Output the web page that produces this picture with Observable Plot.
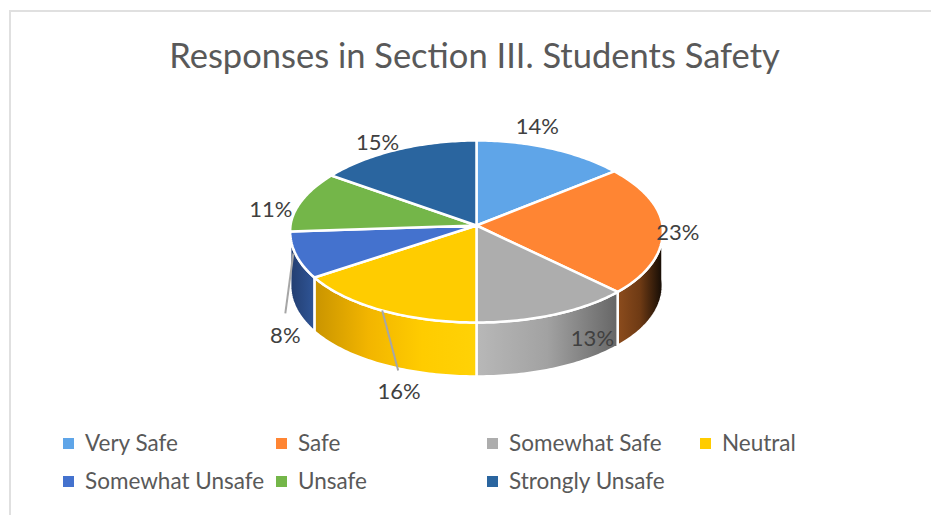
<!DOCTYPE html>
<html>
<head>
<meta charset="utf-8">
<script src="https://cdn.jsdelivr.net/npm/d3@7"></script>
<script src="https://cdn.jsdelivr.net/npm/@observablehq/plot@0.6"></script>
<style>
  html, body { margin: 0; padding: 0; background: #fff; }
  #frame {
    position: absolute; left: 9px; top: 10px; width: 922px; height: 505px;
    border-left: 2px solid #e0e0e0; border-top: 2px solid #e0e0e0;
    box-sizing: border-box; overflow: hidden;
    font-family: Lato, "Open Sans", sans-serif;
  }
  #title {
    position: absolute; left: -2px; width: 931px; top: 23px; text-align: center;
    font-size: 34.5px; line-height: 40px; color: #595959;
  }
  #chart { position: absolute; left: -11px; top: 88px; }
  #legend {
    position: absolute; left: 52px; top: 418px;
    display: grid; grid-template-columns: 213px 211px 213px 160px; row-gap: 12px;
    font-size: 22.5px; line-height: 26px; color: #595959;
  }
  .key { display: flex; align-items: center; white-space: nowrap; }
  .swatch { width: 11px; height: 11px; margin-right: 11px; flex: none; }
</style>
</head>
<body>
<div id="frame">
  <div id="title">Responses in Section III. Students Safety</div>
  <div id="chart"></div>
  <div id="legend"></div>
</div>
<script>
// Survey categories, their shares in percent and their colours
const categories = ["Very Safe", "Safe", "Somewhat Safe", "Neutral", "Somewhat Unsafe", "Unsafe", "Strongly Unsafe"];
const shares = [14, 23, 13, 16, 8, 11, 15];
const colors = ["#5fa5e8", "#ff8533", "#adadad", "#ffcc00", "#4472ce", "#74b649", "#2a659f"];

// Horizontal shading of the visible outer wall of each slice
const wallShades = {
  "Safe": ["#8c4c1d", "#6e3a14", "#120b05"],
  "Somewhat Safe": ["#b8b8b8", "#a2a2a2", "#666666"],
  "Neutral": ["#c99400", "#f2b500", "#ffcc00", "#ffd206"],
  "Somewhat Unsafe": ["#233e70", "#2f5597"]
};

// Data labels sit relative to the rim at each slice's middle angle
const labelOffsets = {
  "Very Safe": [-14, -22], "Safe": [15, 4], "Somewhat Safe": [38, 24], "Neutral": [17, 81],
  "Somewhat Unsafe": [-11, 80], "Unsafe": [-30, 8], "Strongly Unsafe": [-19, -7]
};
// Leader lines for the two labels pulled away from the pie: start and end relative to the rim
const leaderOffsets = {
  "Neutral": [[0, 0], [16, 60]],
  "Somewhat Unsafe": [[-3, -2], [-11, 58]]
};

// Tilted-disc projection: the near half of the disc reads slightly deeper and wider than the far half
const radiusX = 186, radiusBack = 85, radiusFront = 97, depth = 54, perspective = 0.06;
const project = (deg, drop = 0) => {
  const t = deg * Math.PI / 180, c = Math.cos(t);
  return {
    x: radiusX * Math.sin(t) * (1 - perspective * c),
    y: -c * (c > 0 ? radiusBack : radiusFront) + drop
  };
};
const arc = (from, to, drop = 0) => {
  const n = Math.max(1, Math.ceil(Math.abs(to - from)));
  return d3.range(n + 1).map(i => project(from + (to - from) * i / n, drop));
};

let running = 0;
const slices = categories.map((name, i) => {
  const start = running * 3.6;
  running += shares[i];
  return {name, share: shares[i], color: colors[i], start, end: running * 3.6, mid: (start + running * 3.6) / 2};
});

// The wall of a slice is whatever part of it lies on the near half of the disc
const walls = slices.flatMap((s, i) => {
  const a = Math.max(s.start, 90), b = Math.min(s.end, 270);
  if (b - a < 5) return [];
  const top = arc(a, b), bottom = arc(a, b, depth).reverse();
  return [{name: s.name, id: `wall-${i}`, points: [...top, ...bottom, top[0]]}];
});

const topFace = s => [{x: 0, y: 0}, ...arc(s.start, s.end), {x: 0, y: 0}];
const outline = {stroke: "white", strokeWidth: 2.5, x: "x", y: "y"};

// Gradient definitions referenced by the wall fills
const gradients = () => {
  const defs = d3.create("svg:defs");
  for (const w of walls) {
    const shades = wallShades[w.name];
    const g = defs.append("linearGradient").attr("id", w.id);
    shades.forEach((c, k) => g.append("stop").attr("offset", k / (shades.length - 1)).attr("stop-color", c));
  }
  return defs.node();
};

const rim = s => project(s.mid);
const placed = slices.map(s => {
  const r = rim(s), [dx, dy] = labelOffsets[s.name];
  return {...s, rx: r.x, ry: r.y, dx, dy};
});
const leaders = slices.filter(s => leaderOffsets[s.name]).map(s => {
  const r = rim(s), [[ax, ay], [bx, by]] = leaderOffsets[s.name];
  return {x1: r.x + ax, y1: r.y + ay, x2: r.x + bx, y2: r.y + by};
});

const plot = Plot.plot({
  width: 931, height: 315,
  margin: 0,
  x: {domain: [-476, 455], range: [0, 931], axis: null},
  y: {domain: [-125, 190], range: [0, 315], axis: null},
  marks: [
    gradients,
    ...walls.map(w => Plot.line(w.points, {...outline, fill: `url(#${w.id})`})),
    ...slices.map(s => Plot.line(topFace(s), {...outline, fill: s.color})),
    Plot.link(leaders, {x1: "x1", y1: "y1", x2: "x2", y2: "y2", stroke: "#a6a6a6", strokeWidth: 2}),
    ...placed.map(p => Plot.text([p], {
      x: "rx", y: "ry", dx: p.dx, dy: p.dy,
      text: d => `${d.share}%`,
      fontSize: 22, fontFamily: "Lato, 'Open Sans', sans-serif", fill: "#404040"
    }))
  ]
});
document.getElementById("chart").append(plot);

// Legend below the chart, laid out in rows of four
const legend = d3.select("#legend").selectAll("div").data(slices).join("div").attr("class", "key");
legend.append("span").attr("class", "swatch").style("background", d => d.color);
legend.append("span").text(d => d.name);
</script>
</body>
</html>
